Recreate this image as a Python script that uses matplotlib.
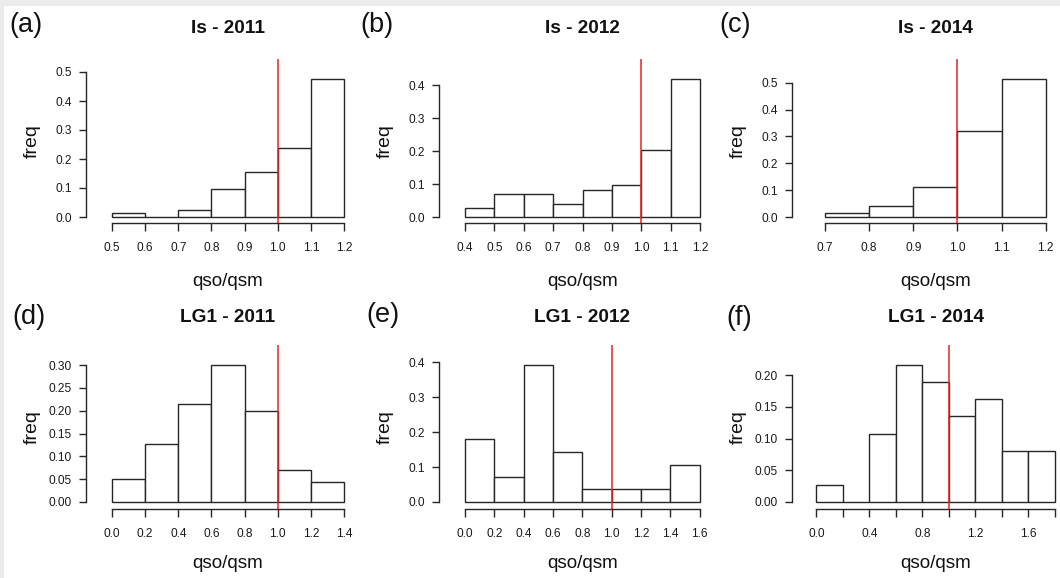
import matplotlib
matplotlib.use("Agg")
import matplotlib.pyplot as plt
from matplotlib.patches import Rectangle

plt.rcParams['font.family'] = ['Liberation Sans', 'DejaVu Sans']

# ---------------- data ----------------
letters = ["(a)", "(b)", "(c)", "(d)", "(e)", "(f)"]
titles = ["Is - 2011", "Is - 2012", "Is - 2014", "LG1 - 2011", "LG1 - 2012", "LG1 - 2014"]

edges_a = [0.5, 0.6, 0.7, 0.8, 0.9, 1.0, 1.1, 1.2]
freq_a = [0.013, 0.0, 0.025, 0.095, 0.155, 0.239, 0.475]
edges_b = [0.4, 0.5, 0.6, 0.7, 0.8, 0.9, 1.0, 1.1, 1.2]
freq_b = [0.028, 0.069, 0.069, 0.041, 0.082, 0.096, 0.203, 0.419]
edges_c = [0.7, 0.8, 0.9, 1.0, 1.1, 1.2]
freq_c = [0.015, 0.041, 0.112, 0.320, 0.512]
edges_d = [0.0, 0.2, 0.4, 0.6, 0.8, 1.0, 1.2, 1.4]
freq_d = [0.050, 0.128, 0.214, 0.300, 0.200, 0.071, 0.043]
edges_e = [0.0, 0.2, 0.4, 0.6, 0.8, 1.0, 1.2, 1.4, 1.6]
freq_e = [0.179, 0.071, 0.393, 0.143, 0.036, 0.036, 0.036, 0.107]
edges_f = [0.0, 0.2, 0.4, 0.6, 0.8, 1.0, 1.2, 1.4, 1.6, 1.8]
freq_f = [0.027, 0.0, 0.108, 0.216, 0.189, 0.135, 0.162, 0.081, 0.081]

xticks_a = [0.5, 0.6, 0.7, 0.8, 0.9, 1.0, 1.1, 1.2]
xlabels_a = ["0.5", "0.6", "0.7", "0.8", "0.9", "1.0", "1.1", "1.2"]
yticks_a = [0.0, 0.1, 0.2, 0.3, 0.4, 0.5]
ylabels_a = ["0.0", "0.1", "0.2", "0.3", "0.4", "0.5"]
xticks_b = [0.4, 0.5, 0.6, 0.7, 0.8, 0.9, 1.0, 1.1, 1.2]
xlabels_b = ["0.4", "0.5", "0.6", "0.7", "0.8", "0.9", "1.0", "1.1", "1.2"]
yticks_b = [0.0, 0.1, 0.2, 0.3, 0.4]
ylabels_b = ["0.0", "0.1", "0.2", "0.3", "0.4"]
xticks_c = [0.7, 0.8, 0.9, 1.0, 1.1, 1.2]
xlabels_c = ["0.7", "0.8", "0.9", "1.0", "1.1", "1.2"]
yticks_c = [0.0, 0.1, 0.2, 0.3, 0.4, 0.5]
ylabels_c = ["0.0", "0.1", "0.2", "0.3", "0.4", "0.5"]
xticks_d = [0.0, 0.2, 0.4, 0.6, 0.8, 1.0, 1.2, 1.4]
xlabels_d = ["0.0", "0.2", "0.4", "0.6", "0.8", "1.0", "1.2", "1.4"]
yticks_d = [0.0, 0.05, 0.10, 0.15, 0.20, 0.25, 0.30]
ylabels_d = ["0.00", "0.05", "0.10", "0.15", "0.20", "0.25", "0.30"]
xticks_e = [0.0, 0.2, 0.4, 0.6, 0.8, 1.0, 1.2, 1.4, 1.6]
xlabels_e = ["0.0", "0.2", "0.4", "0.6", "0.8", "1.0", "1.2", "1.4", "1.6"]
yticks_e = [0.0, 0.1, 0.2, 0.3, 0.4]
ylabels_e = ["0.0", "0.1", "0.2", "0.3", "0.4"]
xticks_f = [0.0, 0.2, 0.4, 0.6, 0.8, 1.0, 1.2, 1.4, 1.6, 1.8]
xlabels_f = ["0.0", "", "0.4", "", "0.8", "", "1.2", "", "1.6", ""]
yticks_f = [0.0, 0.05, 0.10, 0.15, 0.20]
ylabels_f = ["0.00", "0.05", "0.10", "0.15", "0.20"]

ref_value = 1.0

panels = [
    (edges_a, freq_a, xticks_a, xlabels_a, yticks_a, ylabels_a),
    (edges_b, freq_b, xticks_b, xlabels_b, yticks_b, ylabels_b),
    (edges_c, freq_c, xticks_c, xlabels_c, yticks_c, ylabels_c),
    (edges_d, freq_d, xticks_d, xlabels_d, yticks_d, ylabels_d),
    (edges_e, freq_e, xticks_e, xlabels_e, yticks_e, ylabels_e),
    (edges_f, freq_f, xticks_f, xlabels_f, yticks_f, ylabels_f),
]

# ---------------- layout (pixels) ----------------
W, H = 1060, 578
# L, x-tick0 px, x-tick-last px, y0 px, y-top-tick px, B, T
layout = [
    (86, 112, 344, 217, 72, 223, 59),
    (439, 465, 700, 217, 85.3, 223, 59),
    (792, 825, 1045.7, 217, 82.7, 223, 59),
    (86, 112, 344, 502, 365, 508.7, 345),
    (439, 465, 699.7, 502, 362.3, 508.7, 345),
    (792, 816.3, 1054.7, 502, 375.3, 508.7, 345),
]
letter_pos = [(9, 24.5), (360, 24.5), (719, 25.5), (12, 317), (366, 315), (726, 318)]
title_base = [33.3, 33.3, 33.3, 321.7, 321.7, 321.7]
xlab_base = [286.5, 286.5, 286.5, 568, 568, 568]

fig = plt.figure(figsize=(W / 100, H / 100), dpi=100)
fig.patch.set_facecolor('white')
fig.patches.append(Rectangle((0, 1 - 5.7 / H), 1, 5.7 / H, transform=fig.transFigure,
                             facecolor='#ececec', edgecolor='none', zorder=-10))
fig.patches.append(Rectangle((0, 0), 4 / W, 1, transform=fig.transFigure,
                             facecolor='#ececec', edgecolor='none', zorder=-10))

line_col = '#262626'

for i, (edges, freq, xt, xl, yt, yl) in enumerate(panels):
    L, x0p, x1p, y0p, y1p, B, T = layout[i]
    R = x0p + x1p - L
    ax = fig.add_axes([L / W, 1 - B / H, (R - L) / W, (B - T) / H])
    ax.patch.set_alpha(0)
    sx = (x1p - x0p) / (xt[-1] - xt[0])
    sy = (y0p - y1p) / (yt[-1] - yt[0])
    ax.set_xlim(xt[0] - (x0p - L) / sx, xt[-1] + (R - x1p) / sx)
    ax.set_ylim(yt[0] - (B - y0p) / sy, yt[0] + (y0p - T) / sy)

    widths = [edges[k + 1] - edges[k] for k in range(len(freq))]
    ax.bar(edges[:-1], freq, width=widths, align='edge', facecolor='white',
           edgecolor=line_col, linewidth=1.0, zorder=2)
    ax.axvline(ref_value, color='#e8231f', linewidth=1.1, zorder=3)

    for s in ['top', 'right']:
        ax.spines[s].set_visible(False)
    ax.spines['left'].set_bounds(yt[0], yt[-1])
    ax.spines['bottom'].set_bounds(xt[0], xt[-1])
    for s in ['left', 'bottom']:
        ax.spines[s].set_color(line_col)
        ax.spines[s].set_linewidth(1.0)

    ax.set_xticks(xt)
    ax.set_xticklabels(xl)
    ax.set_yticks(yt)
    ax.set_yticklabels(yl)
    ax.tick_params(axis='both', direction='out', length=5.4, width=1.0,
                   color=line_col, labelsize=8.6, labelcolor='#1a1a1a')
    ax.tick_params(axis='x', pad=8.5)
    ax.tick_params(axis='y', pad=5.0)

    cx = (L + R) / 2
    fig.text(cx / W, 1 - title_base[i] / H, titles[i], ha='center', va='baseline',
             fontsize=13.7, fontweight='bold', color='#111111')
    fig.text(cx / W, 1 - xlab_base[i] / H, "qso/qsm", ha='center', va='baseline',
             fontsize=13.6, color='#111111')
    fig.text((L - 53.5) / W, 1 - ((T + B) / 2) / H, "freq", ha='center', va='center',
             rotation=90, fontsize=14, color='#111111')
    lx, ly = letter_pos[i]
    fig.text(lx / W, 1 - ly / H, letters[i], ha='left', va='center',
             fontsize=19.5, color='#111111')

fig.savefig("out.png", dpi=100, facecolor=fig.get_facecolor())
